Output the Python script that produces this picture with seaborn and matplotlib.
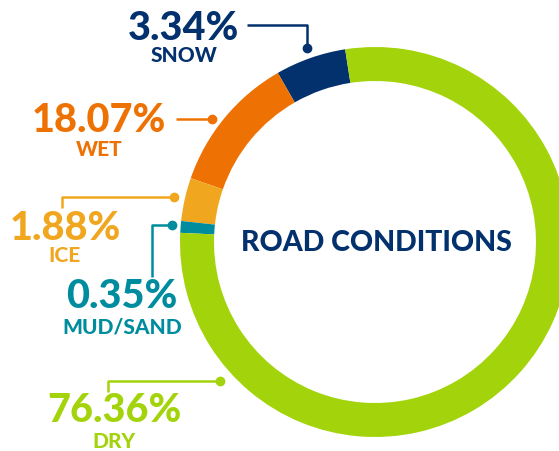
import matplotlib
matplotlib.use("Agg")
import matplotlib.pyplot as plt
import seaborn as sns

# categories and printed percentages
conditions = ["SNOW", "WET", "ICE", "MUD/SAND", "DRY"]
pct_labels = ["3.34%", "18.07%", "1.88%", "0.35%", "76.36%"]
arc_degrees = [21.1, 41.0, 12.9, 3.5, 281.5]
colors = ["#02316e", "#ee7203", "#f0a71f", "#008c9f", "#a3d40b"]

sns.set_style("white")
plt.rcParams["font.family"] = ["Lato", "DejaVu Sans"]

W, H = 559, 451
fig = plt.figure(figsize=(W / 100, H / 100), dpi=100)
ax = fig.add_axes([0, 0, 1, 1])

cx, cy, r_out, ring = 375, 242, 195, 34
# y axis is flipped below, so counterclock=False reads anticlockwise on screen
ax.pie(arc_degrees, colors=colors, startangle=-98.8, counterclock=False,
       center=(cx, cy), radius=r_out, frame=True,
       wedgeprops=dict(width=ring, linewidth=0))
ax.set_xlim(0, W)
ax.set_ylim(H, 0)  # pixel coords, y downwards
ax.set_aspect("equal")
ax.axis("off")

ax.text(cx + 1, cy + 1, "ROAD CONDITIONS", ha="center", va="center",
        fontsize=20.5, fontweight="black", color="#02316e")

# label blocks: (pct x, pct y, name y)
label_pos = {
    "SNOW": (184, 28, 56),
    "WET": (99, 121, 150),
    "ICE": (65, 228, 256),
    "MUD/SAND": (122, 297, 327),
    "DRY": (114, 411, 441),
}
# leader lines as polylines ending in a dot
leaders = {
    "SNOW": [(247, 25), (307, 25), (307, 48)],
    "WET": [(176, 119), (212, 119)],
    "ICE": [(62, 208), (62, 197), (174, 197)],
    "MUD/SAND": [(152, 277), (152, 225), (172, 225)],
    "DRY": [(108, 392), (108, 381), (220, 381)],
}

for name, pct, col in zip(conditions, pct_labels, colors):
    px, py, ny = label_pos[name]
    ax.text(px, py, pct, ha="center", va="center", fontsize=28.5,
            fontweight="black", color=col)
    ax.text(px, ny, name, ha="center", va="center", fontsize=15,
            fontweight="black", color=col)
    xs, ys = zip(*leaders[name])
    ax.plot(xs, ys, color=col, lw=1.8, solid_capstyle="butt")
    ax.plot(xs[-1], ys[-1], "o", color=col, ms=6)

fig.savefig("out.png", dpi=100)
